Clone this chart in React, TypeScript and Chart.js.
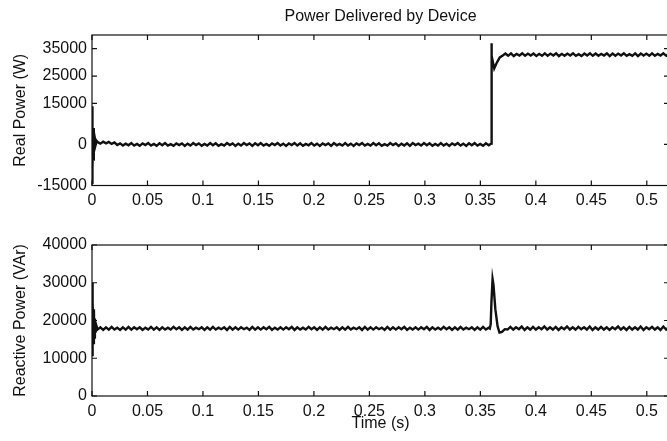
import { useEffect, useRef } from "react";
import { Chart, registerables } from "chart.js";

Chart.register(...registerables);

const FONT = "'Liberation Sans', Arial, sans-serif";
const INK = "#111";

const chartTitle = "Power Delivered by Device";
const realAxisTitle = "Real Power (W)";
const reactiveAxisTitle = "Reactive Power (VAr)";
const timeAxisTitle = "Time (s)";

const timeRange = [0, 0.52];
const timeTicks = [0, 0.05, 0.1, 0.15, 0.2, 0.25, 0.3, 0.35, 0.4, 0.45, 0.5];
const timeTickLabels = ["0", "0.05", "0.1", "0.15", "0.2", "0.25", "0.3", "0.35", "0.4", "0.45", "0.5"];

const realRange = [-15000, 40000];
const realTicks = [-15000, 0, 15000, 25000, 35000];
const reactiveRange = [0, 40000];
const reactiveTicks = [0, 10000, 20000, 30000, 40000];

// Real power: start-up transient [time, W]
const realStart: [number, number][] = [
  [0, -14000], [0.0002, 14000], [0.0006, -9000], [0.001, 6000], [0.0014, -6000],
  [0.0018, 4000], [0.0022, -2000], [0.0028, 1800], [0.0035, 200], [0.0042, 1300],
];
// Real power: steady near zero, evenly sampled over realLowSpan
const realLowSpan = [0.005, 0.3575];
const realLow = [
  900, 300, 1000, 400, 900, 200, 700, -200, 400, -400, 300, -300, 500, -400, 200, -500,
  400, -200, 500, -400, 200, -500, 400, -300, 500, -400, 100, -500, 400, -200, 400, -500,
  300, -400, 500, -200, 400, -500, 200, -400, 500, -300, 400, -500, 100, -400, 500, -200,
  400, -500, 300, -400, 500, -200, 400, -500, 400, -300, 500, -400, 200, -500, 400, -200,
  500, -400, 300, -500, 400, -200, 500, -400, 400, -500, 200, -300, 500, -400, 300, -500,
  400, -200, 400, -500, 500, -300, 200, -400, 500, -400, 300, -500, 400, -200, 500, -400,
  200, -400, 500, -300, 400, -500, 100, -400, 500, -200, 400, -500, 300, -400, 400, -500,
  500, -200, 300, -400, 500, -300, 400, -500, 200, -400, 500, -400, 300, -500, 400, -200,
  500, -400, 300, -500, 400, -300, 500, -400, 200, -500, 400, -300,
];
// Real power: step at 0.36 s [time, W]
const realStep: [number, number][] = [
  [0.3597, 300], [0.36, 37000], [0.3603, 32500], [0.3608, 31000], [0.3625, 27800],
  [0.365, 30000], [0.3675, 31800], [0.3705, 32600],
];
// Real power: steady high, evenly sampled over realHighSpan
const realHighSpan = [0.3725, 0.52];
const realHigh = [
  33200, 32400, 33300, 32300, 33100, 32500, 33300, 32400, 33200, 32500, 33200, 32300,
  33100, 32400, 33300, 32400, 33200, 32500, 33300, 32300, 33100, 32400, 33200, 32500,
  33300, 32400, 33000, 32300, 33200, 32500, 33300, 32400, 33200, 32400, 33100, 32500,
  33300, 32300, 33200, 32400, 33200, 32500, 33300, 32400, 33000, 32400, 33300, 32300,
  33200, 32500, 33200, 32400, 33300, 32400, 33100, 32500, 33300, 32400, 33200,
];

// Reactive power: start-up transient [time, VAr]
const reactiveStart: [number, number][] = [
  [0, 22000], [0.0002, 30000], [0.0005, 10500], [0.0009, 25000], [0.0013, 14000],
  [0.0017, 23000], [0.0021, 15500], [0.0026, 20500], [0.0032, 16800], [0.004, 18600],
];
const reactiveLowSpan = [0.005, 0.3575];
const reactiveLow = [
  17600, 18200, 17500, 18200, 17600, 18300, 17600, 18100, 17500, 18200, 17600, 18300,
  17600, 18200, 17700, 18200, 17500, 18100, 17600, 18300, 17600, 18200, 17500, 18200,
  17600, 18100, 17600, 18300, 17700, 18200, 17500, 18200, 17600, 18300, 17600, 18100,
  17700, 18200, 17500, 18200, 17600, 18300, 17600, 18100, 17700, 18200, 17500, 18300,
  17600, 18200, 17600, 18200, 17700, 18100, 17500, 18300, 17600, 18200, 17600, 18200,
  17700, 18300, 17500, 18100, 17600, 18200, 17600, 18200, 17700, 18300, 17500, 18200,
  17600, 18100, 17600, 18300, 17700, 18200, 17500, 18200, 17600, 18300, 17600, 18100,
  17700, 18200, 17500, 18200, 17600, 18300, 17600, 18100, 17700, 18200, 17500, 18300,
  17600, 18200, 17600, 18200, 17700, 18100, 17500, 18300, 17600, 18200, 17600, 18200,
  17700, 18300, 17500, 18100, 17600, 18200, 17600, 18200, 17700, 18300, 17500, 18200,
  17600, 18100, 17600, 18300, 17700, 18200, 17500, 18200, 17600, 18300, 17600, 18100,
  17700, 18200, 17500, 18200, 17600, 18300, 17600, 18100,
];
const reactiveSpike: [number, number][] = [
  [0.3585, 17900], [0.3593, 19000], [0.36, 25000], [0.361, 31000], [0.3618, 29500],
  [0.3635, 23000], [0.3655, 18500], [0.3672, 16800], [0.3695, 17000], [0.372, 17700],
];
const reactiveHighSpan = [0.3745, 0.52];
const reactiveHigh = [
  17600, 18300, 17600, 18200, 17700, 18400, 17500, 18200, 17600, 18300, 17600, 18200,
  17700, 18400, 17600, 18200, 17600, 18300, 17500, 18200, 17700, 18400, 17600, 18200,
  17600, 18300, 17700, 18200, 17600, 18400, 17500, 18200, 17600, 18300, 17600, 18200,
  17500, 18200, 17700, 18400, 17600, 18200, 17500, 18300, 17600, 18200, 17600, 18400,
  17500, 18200, 17700, 18300, 17600, 18200, 17500, 18400, 17600, 18200,
];

type Pt = { x: number; y: number };
const pairs = (p: [number, number][]): Pt[] => p.map(([x, y]) => ({ x, y }));
const spread = (values: number[], span: number[]): Pt[] =>
  values.map((y, i) => ({ x: span[0] + ((span[1] - span[0]) * i) / (values.length - 1), y }));

const realData: Pt[] = [
  ...pairs(realStart),
  ...spread(realLow, realLowSpan),
  ...pairs(realStep),
  ...spread(realHigh, realHighSpan),
];
const reactiveData: Pt[] = [
  ...pairs(reactiveStart),
  ...spread(reactiveLow, reactiveLowSpan),
  ...pairs(reactiveSpike),
  ...spread(reactiveHigh, reactiveHighSpan),
];

const framePlugin = {
  id: "frame",
  afterDatasetsDraw(chart: any) {
    const { ctx, chartArea: a, scales } = chart;
    const xs = scales.x;
    const ys = scales.y;
    const len = 5;
    ctx.save();
    ctx.strokeStyle = INK;
    ctx.lineWidth = 1.2;
    ctx.strokeRect(a.left, a.top, a.right - a.left, a.bottom - a.top);
    ctx.beginPath();
    for (const t of xs.ticks) {
      const px = xs.getPixelForValue(t.value);
      ctx.moveTo(px, a.bottom);
      ctx.lineTo(px, a.bottom - len);
      ctx.moveTo(px, a.top);
      ctx.lineTo(px, a.top + len);
    }
    for (const t of ys.ticks) {
      const py = ys.getPixelForValue(t.value);
      ctx.moveTo(a.left, py);
      ctx.lineTo(a.left + len, py);
      ctx.moveTo(a.right, py);
      ctx.lineTo(a.right - len, py);
    }
    ctx.stroke();
    ctx.restore();
  },
};

const tickFont = { family: FONT, size: 16 };

function makeConfig(opts: {
  data: Pt[];
  yRange: number[];
  yTicks: number[];
  yTitle: string;
  title?: string;
  xTitle?: string;
  padTop: number;
  xHeight: number;
}): any {
  return {
    type: "line",
    data: {
      datasets: [
        {
          data: opts.data,
          borderColor: INK,
          borderWidth: 2.4,
          pointRadius: 0,
          tension: 0,
          fill: false,
        },
      ],
    },
    plugins: [framePlugin],
    options: {
      animation: false,
      responsive: false,
      devicePixelRatio: 1,
      events: [],
      layout: { padding: { left: 0, right: 3, top: opts.padTop, bottom: 0 } },
      plugins: {
        legend: { display: false },
        tooltip: { enabled: false },
        title: {
          display: !!opts.title,
          text: opts.title || "",
          fullSize: false,
          color: INK,
          font: { family: FONT, size: 16, weight: "normal" },
          padding: { top: 7, bottom: 8.8 },
        },
      },
      scales: {
        x: {
          type: "linear",
          min: timeRange[0],
          max: timeRange[1],
          grid: { display: false, drawTicks: false },
          border: { display: false },
          ticks: {
            color: INK,
            font: tickFont,
            padding: 5.5,
            autoSkip: false,
            maxRotation: 0,
            callback: (_v: any, i: number) => timeTickLabels[i],
          },
          afterBuildTicks: (s: any) => {
            s.ticks = timeTicks.map((value) => ({ value }));
          },
          afterFit: (s: any) => {
            s.height = opts.xHeight;
          },
          title: {
            display: !!opts.xTitle,
            text: opts.xTitle || "",
            color: INK,
            font: { family: FONT, size: 16 },
            padding: { top: 0, bottom: 7.5 },
          },
        },
        y: {
          type: "linear",
          min: opts.yRange[0],
          max: opts.yRange[1],
          grid: { display: false, drawTicks: false },
          border: { display: false },
          ticks: {
            color: INK,
            font: tickFont,
            padding: 5,
            autoSkip: false,
            callback: (v: any) => String(v),
          },
          afterBuildTicks: (s: any) => {
            s.ticks = opts.yTicks.map((value) => ({ value }));
          },
          afterFit: (s: any) => {
            s.width = 92;
          },
          title: {
            display: true,
            text: opts.yTitle,
            color: INK,
            font: { family: FONT, size: 16 },
            padding: { top: 11, bottom: 0 },
          },
        },
      },
    },
  };
}

export default function App() {
  const topRef = useRef<HTMLCanvasElement>(null);
  const botRef = useRef<HTMLCanvasElement>(null);

  useEffect(() => {
    const c1 = new Chart(
      topRef.current!,
      makeConfig({
        data: realData,
        yRange: realRange,
        yTicks: realTicks,
        yTitle: realAxisTitle,
        title: chartTitle,
        padTop: 0,
        xHeight: 29.5,
      })
    );
    const c2 = new Chart(
      botRef.current!,
      makeConfig({
        data: reactiveData,
        yRange: reactiveRange,
        yTicks: reactiveTicks,
        yTitle: reactiveAxisTitle,
        xTitle: timeAxisTitle,
        padTop: 30,
        xHeight: 45,
      })
    );
    return () => {
      c1.destroy();
      c2.destroy();
    };
  }, []);

  return (
    <div
      style={{
        position: "fixed",
        left: 0,
        top: 0,
        width: 667,
        height: 441,
        overflow: "hidden",
        background: "#fff",
      }}
    >
      <canvas
        ref={topRef}
        width={672}
        height={215}
        style={{ position: "absolute", left: 0, top: 0, width: 672, height: 215 }}
      />
      <canvas
        ref={botRef}
        width={672}
        height={226}
        style={{ position: "absolute", left: 0, top: 215, width: 672, height: 226 }}
      />
    </div>
  );
}
